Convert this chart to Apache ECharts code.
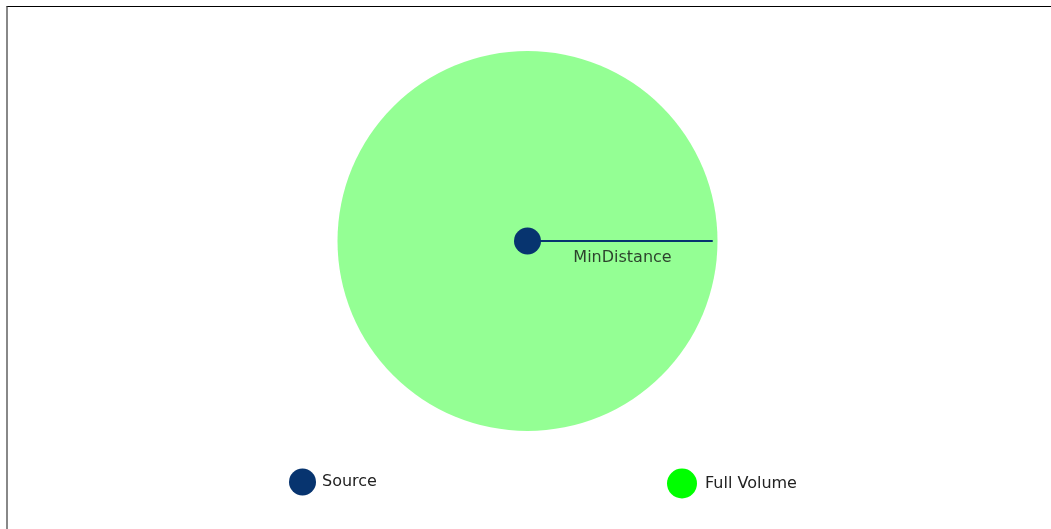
<!DOCTYPE html>
<html>
<head>
<meta charset="utf-8">
<script src="https://cdn.jsdelivr.net/npm/echarts@6/dist/echarts.min.js"></script>
<style>
  html, body { margin: 0; padding: 0; background: #fff; }
  #chart { position: absolute; left: 0; top: 0; width: 1051px; height: 529px; }
  #frame {
    position: absolute; left: 6px; top: 6px; right: 0; bottom: 0;
    border-top: 1px solid #000; border-left: 2px solid #888;
    pointer-events: none;
  }
</style>
</head>
<body>
<div id="chart"></div>
<div id="frame"></div>
<script>
// names shown in the legend
const seriesNames = ['Source', 'Full Volume'];
// sound source position (x, y)
const sourcePos = [0, 0];
// radius of the full volume zone
const minDistance = 1;
// the distance marker line, from source towards the edge
const distanceLine = [[0, 0], [0.975, 0]];
const distanceLabel = 'MinDistance';

const navy = '#07346f';
const green = '#00ff00';

const myChart = echarts.init(document.getElementById('chart'));

const option = {
    animation: false,
    grid: {left: 337.5, top: 51, width: 380, height: 380},
    xAxis: {type: 'value', min: -1, max: 1, show: false},
    yAxis: {type: 'value', min: -1, max: 1, show: false},
    legend: [
        {
            data: [seriesNames[0]],
            left: 289, top: 468.5,
            padding: 0,
            icon: 'circle',
            itemWidth: 27, itemHeight: 27,
            selectedMode: false,
            textStyle: {fontFamily: 'DejaVu Sans', fontSize: 16, color: '#222', padding: [0, 0, 0, 1]}
        },
        {
            data: [seriesNames[1]],
            left: 667, top: 468.5,
            padding: 0,
            icon: 'circle',
            itemWidth: 30, itemHeight: 30,
            selectedMode: false,
            textStyle: {fontFamily: 'DejaVu Sans', fontSize: 16, color: '#222', padding: [0, 0, 0, 3]}
        }
    ],
    series: [
        {
            // the full volume sphere
            name: seriesNames[1],
            type: 'custom',
            itemStyle: {color: green},
            data: [[sourcePos[0], sourcePos[1], minDistance]],
            renderItem: function (params, api) {
                const c = api.coord([api.value(0), api.value(1)]);
                const r = api.size([api.value(2), 0])[0];
                return {
                    type: 'circle',
                    shape: {cx: c[0], cy: c[1], r: r},
                    style: {fill: '#94ff94'}
                };
            },
            z: 1
        },
        {
            name: 'distance',
            type: 'line',
            data: distanceLine,
            symbol: 'none',
            lineStyle: {color: navy, width: 2},
            silent: true,
            z: 2
        },
        {
            name: 'distanceLabel',
            type: 'scatter',
            data: [[minDistance / 2, sourcePos[1]]],
            symbolSize: 0,
            silent: true,
            label: {
                show: true,
                position: 'bottom',
                distance: 9,
                formatter: distanceLabel,
                fontFamily: 'DejaVu Sans',
                fontSize: 16,
                color: '#111'
            },
            z: 3
        },
        {
            name: seriesNames[0],
            type: 'scatter',
            data: [sourcePos],
            symbol: 'circle',
            symbolSize: 27,
            itemStyle: {color: navy, opacity: 1},
            z: 4
        }
    ]
};
myChart.setOption(option);
</script>
</body>
</html>
